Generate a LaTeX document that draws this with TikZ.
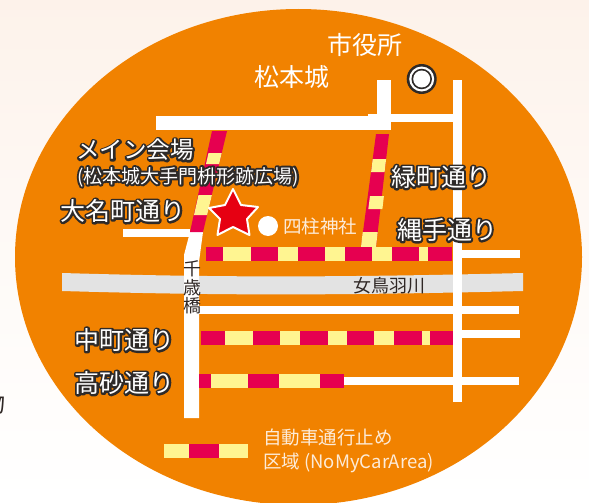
\documentclass[tikz,border=0pt]{standalone}
\usepackage{fontspec}
\setmainfont{Noto Sans CJK JP}
\newcommand{\halotext}[1]{\special{pdf:code 2 Tr 4 w 1 j 1 J 0.18 0.165 0.155 RG 0.18 0.165 0.155 rg}\rlap{#1}\special{pdf:code 0 Tr 1 1 1 rg}#1\special{pdf:code 0 Tr 0.4 w 0 j 0 J 0 G 0 g}}
\definecolor{ground}{HTML}{F18200}
\definecolor{haloedge}{HTML}{2E2A28}
\definecolor{crim}{HTML}{E60050}
\definecolor{ylw}{HTML}{FFF591}
\definecolor{riv}{HTML}{E3E3E3}
\definecolor{pale}{HTML}{FDEBD8}
\definecolor{ink}{HTML}{2F2725}
\definecolor{tint}{HTML}{FDF2EA}
\definecolor{starred}{HTML}{E60012}
\tikzset{
  road/.style={fill=white,draw=none},
  cr/.style={fill=crim,draw=none},
  yl/.style={fill=ylw,draw=none},
  lab/.style={inner sep=0pt,anchor=center},
  hal/.style={lab,font=\fontsize{25}{25}\selectfont},
  pal/.style={inner sep=0pt,anchor=west,text=pale,font=\fontsize{18.5}{19}\selectfont},
  title/.style={lab,text=white,font=\fontsize{25}{25}\selectfont},
}
\begin{document}
\begin{tikzpicture}[x=1pt,y=-1pt]
\useasboundingbox (0,0) rectangle (589,503);
\shade[top color=tint,bottom color=white,middle color=tint!40!white] (0,0) rectangle (589,503);
\node[lab,anchor=east,text=ink,font=\fontsize{23}{23}\selectfont] (frag) at (6,404) {物};
% ground
\fill[ground] (298.5,257) ellipse [x radius=283.5,y radius=248];
% river
\fill[riv] (62,273) .. controls (200,277) and (320,278) .. (523,273) -- (523,291) .. controls (320,296) and (200,295) .. (62,291) -- cycle;
% white roads
\fill[road] (156,116) rectangle (391,130);
\fill[road] (377,80) rectangle (391,130);
\fill[road] (368,114) rectangle (457,122);
\fill[road] (453,80) rectangle (462,402);
\fill[road] (123,229) rectangle (190,237);
\fill[road] (190,232) -- (203,232) -- (199,262) -- (199,418) -- (184,418) -- (184,255) -- cycle;
\fill[road] (462,250) rectangle (520,258);
\fill[road] (199,306) rectangle (519,314);
\fill[road] (462,330) rectangle (520,338);
\fill[road] (344,377) rectangle (519,385);
% oblique stripe, main venue
\fill[cr] (212,131) -- (227,131) -- (203,232) -- (190,232) -- cycle;
\fill[yl] (208.5,153) -- (221.7,153) -- (219.1,164) -- (206,164) -- cycle;
\fill[yl] (198.5,195) -- (211.9,195) -- (207.1,215) -- (194,215) -- cycle;
% oblique stripe, Midori
\fill[cr] (376,134) -- (389,134) -- (376,247) -- (361,247) -- cycle;
\fill[yl] (372.7,159) -- (386.1,159) -- (384.6,172) -- (371.1,172) -- cycle;
\fill[yl] (370,196) -- (383.9,196) -- (382.4,209) -- (368.3,209) -- cycle;
\fill[yl] (362.7,232) -- (377.7,232) -- (376,247) -- (361,247) -- cycle;
% Nawate stripe
\fill[cr] (206,247) rectangle (452,261);
\foreach \a/\b in {223/251,278/298,325/345,372/392,419/428} \fill[yl] (\a,247) rectangle (\b,261);
% Nakamachi stripe
\fill[cr] (201,331) rectangle (453,345);
\foreach \a/\b in {224.5/253,280/300,327.5/347,374/394,422/430} \fill[yl] (\a,331) rectangle (\b,345);
% Takasago stripe
\fill[cr] (199,374) rectangle (344,388);
\foreach \a/\b in {211/248,279/320} \fill[yl] (\a,374) rectangle (\b,388);
% legend swatch
\fill[yl] (164,444) rectangle (248,458);
\fill[cr] (189,444) rectangle (219,458);
% markers
\node[circle,fill=haloedge,minimum size=30pt,inner sep=0pt] (cityout) at (421.7,79) {};
\node[circle,fill=white,minimum size=25pt,inner sep=0pt] (cityring) at (421.7,79) {};
\node[circle,fill=haloedge,minimum size=20.5pt,inner sep=0pt] (cityin) at (421.7,79) {};
\node[circle,fill=white,minimum size=17pt,inner sep=0pt] (citydot) at (421.7,79) {};
\node[circle,fill=white,minimum size=20pt,inner sep=0pt] (shrine) at (268,226) {};
\fill[fill=starred,draw=white,line width=2pt,line join=round]
  (233,189) -- (241,205) -- (258,207) -- (247,219) -- (249.5,235) -- (233,227) -- (217.5,235) -- (220,219) -- (209,208) -- (225,205) -- cycle;
% labels
\node[title] (shiyaku) at (364.5,45) {市役所};
\node[title] (castle) at (291.5,77) {松本城};
\node[hal,font=\fontsize{23.5}{24}\selectfont] (main) at (135,150) {\halotext{メイン会場}};
\node[hal,font=\fontsize{19}{20}\selectfont] (mainb) at (188,177) {\halotext{(松本城大手門枡形跡広場)}};
\node[hal] (daimyo) at (123,211) {\halotext{大名町通り}};
\node[hal] (midori) at (441,177) {\halotext{緑町通り}};
\node[hal] (nawate) at (447,230) {\halotext{縄手通り}};
\node[hal] (naka) at (124.5,340) {\halotext{中町通り}};
\node[hal] (taka) at (124.5,383) {\halotext{高砂通り}};
\node[pal] (shrinet) at (283,226) {四柱神社};
\node[lab,text=ink,font=\fontsize{18}{18}\selectfont] (river) at (389,286) {女鳥羽川};
\node[lab,text=ink,align=center,font=\fontsize{18}{18.3}\selectfont] (bridge) at (192,287.5) {千\\歳\\橋};
\node[pal] (lega) at (263,437) {自動車通行止め};
\node[pal] (legb) at (263,463) {区域 (NoMyCarArea)};
\end{tikzpicture}
\end{document}
